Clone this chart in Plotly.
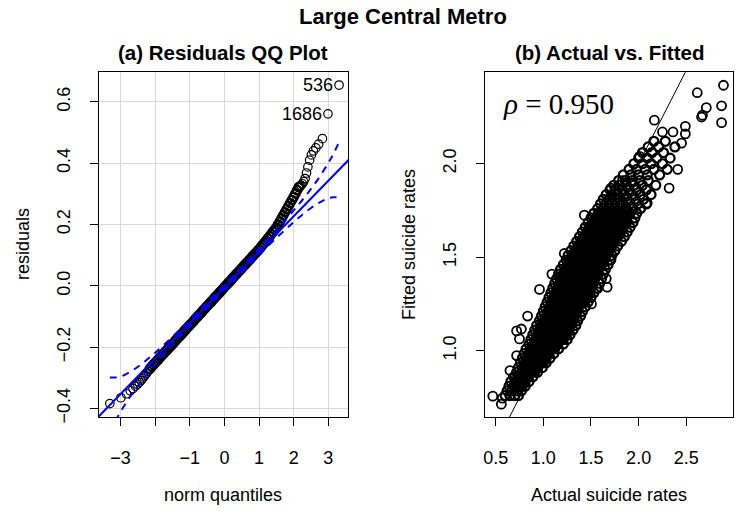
import plotly.graph_objects as go

# ---------------- data: (a) residuals QQ plot ----------------
norm_q = [-3.31, -2.99, -2.83, -2.72, -2.64, -2.57, -2.51, -2.46, -2.41, -2.37, -2.33, -2.29, -2.25, -2.21, -2.18,
          -2.15, -2.10, -2.05, -2.00, -1.95, -1.90, -1.85, -1.80, -1.75, -1.70, -1.65, -1.60, -1.55, -1.50,
          -1.45, -1.40, -1.35, -1.30, -1.25, -1.20, -1.15, -1.10, -1.05, -1.00, -0.95, -0.90, -0.85, -0.80,
          -0.75, -0.70, -0.65, -0.60, -0.55, -0.50, -0.45, -0.40, -0.35, -0.30, -0.25, -0.20, -0.15, -0.10,
          -0.05, 0.00, 0.05, 0.10, 0.15, 0.20, 0.25, 0.30, 0.35, 0.40, 0.45, 0.50, 0.55, 0.60, 0.65, 0.70,
          0.75, 0.80, 0.85, 0.90, 0.95, 1.00, 1.05, 1.10, 1.15, 1.20, 1.25, 1.30, 1.35, 1.40, 1.45, 1.50,
          1.55, 1.60, 1.65, 1.70, 1.75, 1.80, 1.85, 1.90, 1.95, 2.00, 2.05, 2.10, 2.15,
          2.18, 2.21, 2.25, 2.29, 2.33, 2.37, 2.41, 2.46, 2.51, 2.57, 2.64, 2.72, 2.83, 2.99, 3.31]
resid = [-0.384, -0.365, -0.352, -0.342, -0.335, -0.327, -0.321, -0.315, -0.309, -0.303, -0.297, -0.291, -0.285, -0.279, -0.274,
         -0.270, -0.263, -0.257, -0.251, -0.245, -0.239, -0.232, -0.226, -0.220, -0.214, -0.208, -0.202, -0.196, -0.190,
         -0.184, -0.177, -0.171, -0.165, -0.159, -0.153, -0.146, -0.140, -0.134, -0.128, -0.122, -0.116, -0.109, -0.103,
         -0.097, -0.091, -0.085, -0.078, -0.072, -0.066, -0.060, -0.054, -0.048, -0.041, -0.035, -0.029, -0.023, -0.017,
         -0.011, -0.004, 0.002, 0.008, 0.014, 0.020, 0.027, 0.033, 0.039, 0.045, 0.051, 0.057, 0.064, 0.070, 0.076, 0.082,
         0.088, 0.095, 0.101, 0.107, 0.113, 0.119, 0.126, 0.133, 0.140, 0.147, 0.154, 0.161, 0.168, 0.176, 0.183, 0.190,
         0.200, 0.210, 0.220, 0.230, 0.240, 0.250, 0.260, 0.270, 0.280, 0.290, 0.301, 0.312, 0.322,
         0.325, 0.328, 0.333, 0.340, 0.350, 0.368, 0.388, 0.410, 0.427, 0.440, 0.450, 0.462, 0.480, 0.561, 0.655]
outlier_ids = ["536", "1686"]
outlier_q = [3.31, 2.99]
outlier_resid = [0.655, 0.561]

qq_intercept = -0.005
qq_slope = 0.116
env_q = [-3.31, -3.15, -3.0, -2.75, -2.5, -2.25, -2.0, -1.5, -1.0, -0.5, 0.0, 0.5, 1.0, 1.5, 2.0, 2.25, 2.5, 2.75, 3.0, 3.15, 3.31]
env_upper = [-0.299, -0.299, -0.296, -0.282, -0.264, -0.242, -0.218, -0.166, -0.111, -0.054, 0.004, 0.062, 0.122,
             0.182, 0.246, 0.280, 0.316, 0.356, 0.401, 0.431, 0.469]
env_lower = [-0.479, -0.441, -0.411, -0.366, -0.326, -0.290, -0.256, -0.192, -0.132, -0.072, -0.014, 0.044, 0.101,
             0.156, 0.208, 0.232, 0.254, 0.272, 0.286, 0.289, 0.289]

qq_xticks = [-3, -2, -1, 0, 1, 2, 3]
qq_xticklabels = ["\u22123", "", "\u22121", "0", "1", "2", "3"]
qq_yticks = [-0.4, -0.2, 0.0, 0.2, 0.4, 0.6]
qq_yticklabels = ["\u22120.4", "\u22120.2", "0.0", "0.2", "0.4", "0.6"]

# ---------------- data: (b) actual vs fitted ----------------
fitted_levels = [0.760, 0.785, 0.810, 0.835, 0.860, 0.885, 0.910, 0.935, 0.960, 0.985, 1.010, 1.035, 1.060,
                 1.085, 1.110, 1.135, 1.160, 1.185, 1.210, 1.235, 1.260, 1.285, 1.310, 1.335, 1.360, 1.385,
                 1.410, 1.435, 1.460, 1.485, 1.510, 1.535, 1.560, 1.585, 1.610, 1.635, 1.660, 1.685, 1.710,
                 1.735, 1.760, 1.785, 1.810, 1.835, 1.860, 1.885, 1.910, 1.940, 1.970, 2.000, 2.030, 2.060,
                 2.090, 2.120]
actual_rows = [
    [0.60, 0.65, 0.70, 0.74],
    [0.62, 0.67, 0.72, 0.77],
    [0.64, 0.69, 0.74, 0.78, 0.81],
    [0.66, 0.71, 0.76, 0.81, 0.85],
    [0.69, 0.74, 0.79, 0.84, 0.89],
    [0.72, 0.77, 0.82, 0.87, 0.91, 0.94],
    [0.74, 0.79, 0.84, 0.89, 0.94, 0.99],
    [0.76, 0.81, 0.86, 0.91, 0.96, 1.00, 1.03],
    [0.78, 0.83, 0.88, 0.93, 0.98, 1.03, 1.07],
    [0.80, 0.85, 0.90, 0.95, 1.00, 1.05, 1.11],
    [0.82, 0.87, 0.92, 0.97, 1.02, 1.07, 1.12, 1.16],
    [0.85, 0.90, 0.95, 1.00, 1.05, 1.10, 1.15, 1.21],
    [0.87, 0.92, 0.97, 1.02, 1.07, 1.12, 1.17, 1.21, 1.25],
    [0.89, 0.94, 0.99, 1.04, 1.09, 1.14, 1.19, 1.24, 1.28],
    [0.91, 0.96, 1.01, 1.06, 1.11, 1.16, 1.21, 1.26, 1.31],
    [0.93, 0.98, 1.03, 1.08, 1.13, 1.18, 1.23, 1.28, 1.34],
    [0.96, 1.01, 1.06, 1.11, 1.16, 1.21, 1.26, 1.31, 1.36],
    [0.98, 1.03, 1.08, 1.13, 1.18, 1.23, 1.28, 1.33, 1.39],
    [1.00, 1.05, 1.10, 1.15, 1.20, 1.25, 1.30, 1.35, 1.41],
    [1.02, 1.07, 1.12, 1.17, 1.22, 1.27, 1.32, 1.37, 1.44],
    [1.04, 1.09, 1.14, 1.19, 1.24, 1.29, 1.34, 1.39, 1.43, 1.47],
    [1.06, 1.11, 1.16, 1.21, 1.26, 1.31, 1.36, 1.41, 1.46, 1.50],
    [1.08, 1.13, 1.18, 1.23, 1.28, 1.33, 1.38, 1.43, 1.48, 1.53],
    [1.10, 1.15, 1.20, 1.25, 1.30, 1.35, 1.40, 1.45, 1.50, 1.56],
    [1.12, 1.17, 1.22, 1.27, 1.32, 1.37, 1.42, 1.47, 1.52, 1.59],
    [1.14, 1.19, 1.24, 1.29, 1.34, 1.39, 1.44, 1.49, 1.54, 1.61],
    [1.16, 1.21, 1.26, 1.31, 1.36, 1.41, 1.46, 1.51, 1.56, 1.63],
    [1.18, 1.23, 1.28, 1.33, 1.38, 1.43, 1.48, 1.53, 1.58, 1.65],
    [1.21, 1.26, 1.31, 1.36, 1.41, 1.46, 1.51, 1.56, 1.61, 1.68],
    [1.24, 1.29, 1.34, 1.39, 1.44, 1.49, 1.54, 1.59, 1.64, 1.70],
    [1.26, 1.31, 1.36, 1.41, 1.46, 1.51, 1.56, 1.61, 1.66, 1.72],
    [1.29, 1.34, 1.39, 1.44, 1.49, 1.54, 1.59, 1.64, 1.69, 1.75],
    [1.32, 1.37, 1.42, 1.47, 1.52, 1.57, 1.62, 1.67, 1.72, 1.78],
    [1.35, 1.40, 1.45, 1.50, 1.55, 1.60, 1.65, 1.70, 1.75, 1.82],
    [1.38, 1.43, 1.48, 1.53, 1.58, 1.63, 1.68, 1.73, 1.78, 1.85],
    [1.41, 1.46, 1.51, 1.56, 1.61, 1.66, 1.71, 1.76, 1.81, 1.88],
    [1.44, 1.49, 1.54, 1.59, 1.64, 1.69, 1.74, 1.79, 1.84, 1.91],
    [1.47, 1.52, 1.57, 1.62, 1.67, 1.72, 1.77, 1.82, 1.87, 1.94],
    [1.50, 1.55, 1.60, 1.65, 1.70, 1.75, 1.80, 1.86, 1.96],
    [1.53, 1.58, 1.63, 1.68, 1.73, 1.78, 1.84, 1.91, 1.98],
    [1.57, 1.63, 1.69, 1.75, 1.81, 1.87, 1.94, 2.02],
    [1.60, 1.66, 1.72, 1.78, 1.84, 1.91, 1.99, 2.08],
    [1.63, 1.69, 1.75, 1.81, 1.88, 1.96, 2.05],
    [1.66, 1.72, 1.78, 1.85, 1.93, 2.02, 2.13],
    [1.70, 1.76, 1.83, 1.90, 1.98, 2.08],
    [1.74, 1.80, 1.87, 1.95, 2.04, 2.18],
    [1.79, 1.86, 1.93, 2.01, 2.10],
    [1.84, 1.92, 2.00, 2.09, 2.22],
    [1.90, 1.98, 2.07, 2.16, 2.30],
    [1.95, 2.04, 2.13, 2.25],
    [2.00, 2.09, 2.19, 2.33],
    [2.04, 2.14, 2.26],
    [2.10, 2.21, 2.38],
    [2.16, 2.28],
]
actual_outliers = [0.47, 0.56, 0.57, 0.65, 0.72, 0.72, 0.75, 0.77, 0.835, 0.96, 1.09, 1.22, 1.505, 1.57, 1.66,
                   1.67, 1.71, 1.43, 1.71, 1.83, 2.01, 2.09, 2.165, 2.25, 2.36, 2.49, 2.49, 2.45, 2.41, 2.32,
                   2.615, 2.89, 2.71, 2.67, 2.66, 2.87, 2.87]
fitted_outliers = [0.757, 0.714, 0.746, 0.894, 0.974, 1.106, 1.063, 1.116, 1.185, 1.328, 1.41, 1.52, 1.25, 1.333, 1.386,
                   1.34, 1.487, 1.725, 1.87, 1.91, 2.04, 1.79, 2.233, 2.17, 2.17, 2.20, 2.16, 2.11, 1.97, 1.87,
                   2.38, 2.42, 2.30, 2.26, 2.25, 2.31, 2.22]

fit_xticks = [0.5, 1.0, 1.5, 2.0, 2.5]
fit_xticklabels = ["0.5", "1.0", "1.5", "2.0", "2.5"]
fit_yticks = [1.0, 1.5, 2.0]
fit_yticklabels = ["1.0", "1.5", "2.0"]

# ---------------- build ----------------
W, H = 738, 514
FONT = "Liberation Sans, Arial, Helvetica, sans-serif"


def fx(p):
    return p / W


def fy(p):
    return 1 - p / H


core_x, core_y = [], []
inner_x, inner_y = [], []   # interior points of each row (overplotted region -> solid black)
for lvl, row in zip(fitted_levels, actual_rows):
    for a in row:
        core_x.append(a)
        core_y.append(lvl)
    if len(row) > 4 and lvl < 1.75:
        for a in row[1:-1]:
            inner_x.append(a)
            inner_y.append(lvl)

# split QQ points by density (styling only): dense middle vs. sparse tails
mid_x = [q for q in norm_q if abs(q) <= 2.16]
mid_y = [r for q, r in zip(norm_q, resid) if abs(q) <= 2.16]
tail_x = [q for q in norm_q if abs(q) > 2.16]
tail_y = [r for q, r in zip(norm_q, resid) if abs(q) > 2.16]

fig = go.Figure()

# panel (a)
fig.add_trace(go.Scatter(x=tail_x, y=tail_y, mode="markers", xaxis="x", yaxis="y",
                         marker=dict(symbol="circle-open", size=8.5, color="black", line=dict(width=1.2, color="black")),
                         showlegend=False, hoverinfo="skip"))
fig.add_trace(go.Scatter(x=mid_x, y=mid_y, mode="markers", xaxis="x", yaxis="y",
                         marker=dict(symbol="circle-open", size=8.5, color="black", line=dict(width=2.2, color="black")),
                         showlegend=False, hoverinfo="skip"))
line_x = [-4.0, 4.0]
fig.add_trace(go.Scatter(x=line_x, y=[qq_intercept + qq_slope * v for v in line_x], mode="lines",
                         xaxis="x", yaxis="y", line=dict(color="#0000ff", width=2), showlegend=False, hoverinfo="skip"))
for env in (env_upper, env_lower):
    fig.add_trace(go.Scatter(x=env_q, y=env, mode="lines", xaxis="x", yaxis="y", line_shape="spline",
                             line=dict(color="#0000ff", width=2, dash="7px,6px"), showlegend=False, hoverinfo="skip"))

# panel (b)
fig.add_trace(go.Scatter(x=inner_x, y=inner_y, mode="markers", xaxis="x2", yaxis="y2",
                         marker=dict(symbol="circle", size=8, color="black", line=dict(width=0)),
                         showlegend=False, hoverinfo="skip"))
fig.add_trace(go.Scatter(x=core_x, y=core_y, mode="markers", xaxis="x2", yaxis="y2",
                         marker=dict(symbol="circle-open", size=9, color="black", line=dict(width=2.2, color="black")),
                         showlegend=False, hoverinfo="skip"))
fig.add_trace(go.Scatter(x=actual_outliers, y=fitted_outliers, mode="markers", xaxis="x2", yaxis="y2",
                         marker=dict(symbol="circle-open", size=9, color="black", line=dict(width=1.8, color="black")),
                         showlegend=False, hoverinfo="skip"))
fig.add_trace(go.Scatter(x=[0.0, 3.5], y=[0.0, 3.5], mode="lines", xaxis="x2", yaxis="y2",
                         line=dict(color="black", width=1), showlegend=False, hoverinfo="skip"))

axis_common = dict(showline=True, mirror=True, linecolor="black", linewidth=1.3, ticks="outside", ticklen=8,
                   tickwidth=1, tickcolor="black", zeroline=False,
                   tickfont=dict(family=FONT, size=18, color="black"))

dom_y = [fy(422), fy(73)]
fig.update_layout(
    width=W, height=H, margin=dict(l=0, r=0, t=0, b=0),
    paper_bgcolor="white", plot_bgcolor="white", showlegend=False,
    xaxis=dict(domain=[fx(97), fx(347)], range=[-3.63, 3.57], tickmode="array", tickvals=qq_xticks,
               ticktext=qq_xticklabels, showgrid=True, gridcolor="#d9d9d9", gridwidth=1, anchor="y",
               ticklabelstandoff=16, **axis_common),
    yaxis=dict(domain=dom_y, range=[-0.428, 0.697], tickmode="array", tickvals=qq_yticks,
               ticktext=qq_yticklabels, showgrid=True, gridcolor="#d9d9d9", gridwidth=1, anchor="x",
               tickangle=-90, ticklabelstandoff=12, **axis_common),
    xaxis2=dict(domain=[fx(484), fx(733)], range=[0.385, 2.99], tickmode="array", tickvals=fit_xticks,
                ticktext=fit_xticklabels, showgrid=False, anchor="y2", ticklabelstandoff=16, **axis_common),
    yaxis2=dict(domain=dom_y, range=[0.645, 2.49], tickmode="array", tickvals=fit_yticks,
                ticktext=fit_yticklabels, showgrid=False, anchor="x2", tickangle=-90, ticklabelstandoff=12,
                **axis_common),
)

ann = []
ann.append(dict(text="<b>Large Central Metro</b>", x=fx(402), y=fy(17), xref="paper", yref="paper",
                showarrow=False, xanchor="center", yanchor="middle", font=dict(family=FONT, size=22, color="black")))
ann.append(dict(text="<b>(a) Residuals QQ Plot</b>", x=fx(222), y=fy(53), xref="paper", yref="paper",
                showarrow=False, xanchor="center", yanchor="middle", font=dict(family=FONT, size=20.5, color="black")))
ann.append(dict(text="<b>(b) Actual vs. Fitted</b>", x=fx(609), y=fy(53), xref="paper", yref="paper",
                showarrow=False, xanchor="center", yanchor="middle", font=dict(family=FONT, size=20.5, color="black")))
ann.append(dict(text="norm quantiles", x=fx(222), y=fy(501), xref="paper", yref="paper", showarrow=False,
                xanchor="center", yanchor="middle", font=dict(family=FONT, size=18, color="black")))
ann.append(dict(text="Actual suicide rates", x=fx(609), y=fy(501), xref="paper", yref="paper", showarrow=False,
                xanchor="center", yanchor="middle", font=dict(family=FONT, size=18, color="black")))
ann.append(dict(text="residuals", x=fx(21), y=fy(247), xref="paper", yref="paper", showarrow=False,
                textangle=-90, xanchor="center", yanchor="middle", font=dict(family=FONT, size=18, color="black")))
ann.append(dict(text="Fitted suicide rates", x=fx(408), y=fy(247), xref="paper", yref="paper", showarrow=False,
                textangle=-90, xanchor="center", yanchor="middle", font=dict(family=FONT, size=18, color="black")))
for lab, qx, ry in zip(outlier_ids, outlier_q, outlier_resid):
    ann.append(dict(text=lab, x=qx, y=ry, xref="x", yref="y", showarrow=False, xanchor="right",
                    yanchor="middle", xshift=-4, font=dict(family=FONT, size=18, color="black")))
ann.append(dict(text="<i>\u03c1</i> = 0.950", x=fx(500), y=fy(105), xref="paper", yref="paper", showarrow=False,
                xanchor="left", yanchor="middle", font=dict(family="Liberation Serif, DejaVu Serif, serif", size=29,
                                                            color="black")))
fig.update_layout(annotations=ann)

fig.write_html("out.html", config={"displayModeBar": False},
               post_script="document.body.style.margin='0px';")
